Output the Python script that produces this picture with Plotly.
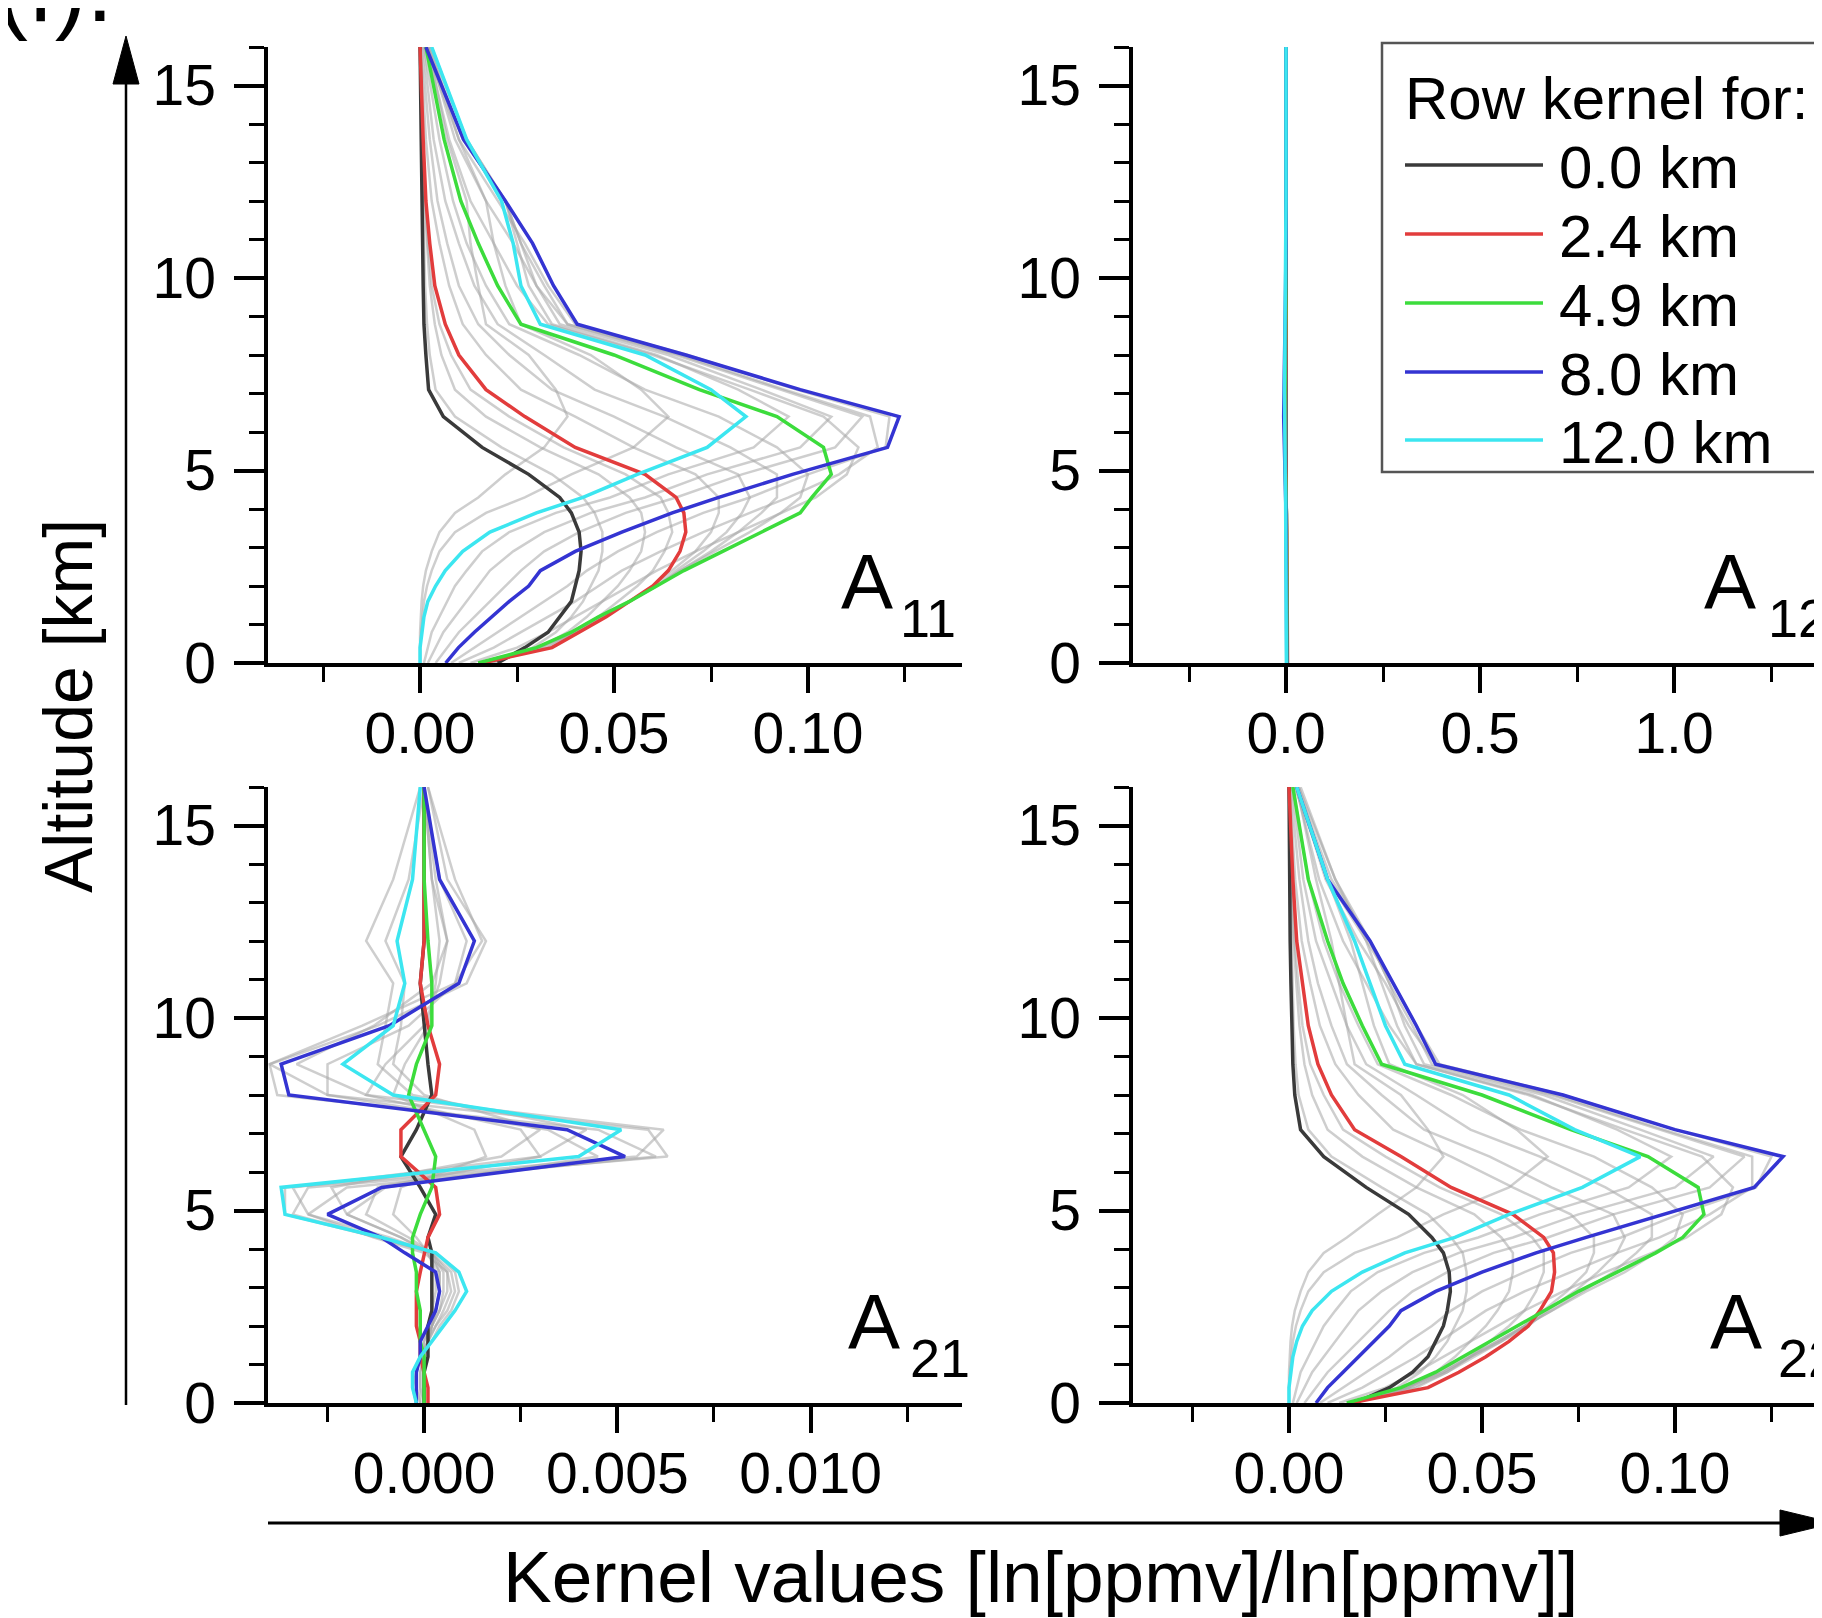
import plotly.graph_objects as go

W, H = 1822, 1618
OFF = 8  # page body margin, positions below are given in window pixels

# altitude grid of the kernel rows [km]
alt = [0.0, 0.4, 0.8, 1.2, 1.6, 2.0, 2.4, 2.9, 3.4, 3.9, 4.3, 4.9, 5.6, 6.4, 7.1, 8.0, 8.8, 9.8, 10.9, 12.0, 13.6, 16.0]

row_labels = ['0.0 km', '2.4 km', '4.9 km', '8.0 km', '12.0 km']
row_colors = ['#3a3a3a', '#e23c3c', '#3cdc3c', '#3434d2', '#3ce6f0']

# ---- A11 ----
a11_0p0 = [0.020, 0.027, 0.033, 0.036, 0.039, 0.040, 0.041, 0.0415, 0.041, 0.039, 0.036, 0.028, 0.016, 0.006, 0.0022, 0.0015, 0.001, 0.0008, 0.0006, 0.0005, 0.0003, 0.0]
a11_2p4 = [0.016, 0.034, 0.041, 0.048, 0.054, 0.060, 0.064, 0.067, 0.0685, 0.068, 0.066, 0.058, 0.040, 0.027, 0.017, 0.010, 0.0065, 0.0038, 0.0025, 0.0015, 0.0008, 0.0]
a11_4p9 = [0.015, 0.030, 0.039, 0.046, 0.054, 0.061, 0.068, 0.078, 0.088, 0.098, 0.101, 0.106, 0.104, 0.092, 0.072, 0.050, 0.026, 0.020, 0.015, 0.0105, 0.0062, 0.0015]
a11_8p0 = [0.0066, 0.0099, 0.014, 0.0185, 0.023, 0.028, 0.031, 0.040, 0.052, 0.065, 0.077, 0.096, 0.1205, 0.1235, 0.098, 0.0685, 0.0405, 0.0344, 0.029, 0.022, 0.0112, 0.0015]
a11_12p0 = [0.0, 0.0, 0.0005, 0.001, 0.002, 0.004, 0.0065, 0.011, 0.018, 0.030, 0.042, 0.056, 0.074, 0.084, 0.075, 0.058, 0.031, 0.026, 0.024, 0.021, 0.012, 0.003]
a11_grey = [
    [0.019, 0.029, 0.035, 0.039, 0.042, 0.044, 0.046, 0.047, 0.047, 0.045, 0.042, 0.034, 0.021, 0.009, 0.004, 0.0025, 0.0018, 0.0013, 0.001, 0.0008, 0.0004, 0.0],
    [0.018, 0.031, 0.038, 0.043, 0.047, 0.051, 0.054, 0.057, 0.058, 0.057, 0.054, 0.046, 0.031, 0.017, 0.009, 0.0055, 0.0038, 0.0025, 0.0018, 0.0012, 0.0006, 0.0],
    [0.017, 0.033, 0.040, 0.046, 0.051, 0.056, 0.060, 0.063, 0.065, 0.064, 0.062, 0.053, 0.037, 0.023, 0.013, 0.008, 0.005, 0.003, 0.002, 0.0013, 0.0007, 0.0],
    [0.016, 0.032, 0.040, 0.047, 0.054, 0.060, 0.065, 0.071, 0.075, 0.077, 0.077, 0.071, 0.055, 0.040, 0.026, 0.017, 0.011, 0.0075, 0.005, 0.003, 0.0015, 0.0002],
    [0.016, 0.031, 0.040, 0.047, 0.054, 0.061, 0.066, 0.073, 0.079, 0.083, 0.085, 0.082, 0.066, 0.050, 0.034, 0.023, 0.015, 0.010, 0.007, 0.0045, 0.0025, 0.0004],
    [0.015, 0.030, 0.040, 0.047, 0.054, 0.061, 0.067, 0.075, 0.082, 0.088, 0.092, 0.092, 0.080, 0.063, 0.045, 0.032, 0.020, 0.014, 0.010, 0.0065, 0.0035, 0.0008],
    [0.015, 0.030, 0.039, 0.046, 0.054, 0.061, 0.067, 0.076, 0.085, 0.093, 0.098, 0.100, 0.092, 0.077, 0.058, 0.041, 0.023, 0.017, 0.012, 0.0085, 0.005, 0.001],
    [0.013, 0.025, 0.033, 0.040, 0.047, 0.054, 0.061, 0.071, 0.082, 0.093, 0.102, 0.110, 0.113, 0.104, 0.085, 0.060, 0.033, 0.025, 0.019, 0.013, 0.0075, 0.0018],
    [0.010, 0.019, 0.026, 0.033, 0.040, 0.046, 0.052, 0.062, 0.073, 0.085, 0.095, 0.108, 0.118, 0.116, 0.094, 0.067, 0.038, 0.030, 0.024, 0.017, 0.009, 0.002],
    [0.008, 0.014, 0.020, 0.026, 0.032, 0.038, 0.043, 0.051, 0.061, 0.073, 0.085, 0.100, 0.120, 0.121, 0.097, 0.069, 0.040, 0.033, 0.027, 0.020, 0.010, 0.0015],
    [0.004, 0.007, 0.010, 0.014, 0.018, 0.022, 0.026, 0.032, 0.041, 0.053, 0.066, 0.083, 0.107, 0.114, 0.093, 0.066, 0.038, 0.032, 0.026, 0.022, 0.011, 0.002],
    [0.002, 0.004, 0.006, 0.009, 0.012, 0.015, 0.018, 0.024, 0.032, 0.044, 0.058, 0.074, 0.098, 0.106, 0.088, 0.064, 0.036, 0.030, 0.026, 0.022, 0.012, 0.0025],
    [0.001, 0.002, 0.003, 0.005, 0.007, 0.009, 0.012, 0.016, 0.023, 0.035, 0.049, 0.064, 0.086, 0.095, 0.082, 0.061, 0.034, 0.028, 0.025, 0.022, 0.012, 0.003],
    [0.0, 0.0, 0.0003, 0.0006, 0.001, 0.0018, 0.003, 0.005, 0.009, 0.017, 0.027, 0.039, 0.055, 0.064, 0.057, 0.044, 0.026, 0.022, 0.019, 0.017, 0.010, 0.0025],
    [0.0, 0.0, 0.0, 0.0002, 0.0004, 0.0008, 0.0015, 0.003, 0.005, 0.009, 0.015, 0.022, 0.032, 0.038, 0.035, 0.028, 0.017, 0.015, 0.013, 0.012, 0.007, 0.002],
]

# ---- A12 ----
a12_0p0 = [0.003, 0.003, 0.003, 0.002, 0.002, 0.002, 0.002, 0.001, 0.001, 0.001, 0.0, 0.0, -0.001, -0.001, 0.0, 0.0, 0.0, 0.0, 0.0, 0.0, 0.0, 0.0]
a12_2p4 = [0.004, 0.004, 0.004, 0.003, 0.003, 0.003, 0.003, 0.002, 0.002, 0.001, 0.0, -0.001, -0.002, -0.002, -0.001, 0.0, 0.0, 0.0, 0.0, 0.0, 0.0, 0.0]
a12_4p9 = [0.003, 0.003, 0.003, 0.003, 0.002, 0.002, 0.002, 0.002, 0.001, 0.001, 0.0, -0.002, -0.003, -0.003, -0.002, -0.001, 0.0, 0.0, 0.0, 0.0, 0.0, 0.0]
a12_8p0 = [0.002, 0.002, 0.002, 0.002, 0.002, 0.001, 0.001, 0.001, 0.0, 0.0, -0.001, -0.003, -0.005, -0.006, -0.005, -0.003, -0.002, -0.001, 0.0, 0.0, 0.0, 0.0]
a12_12p0 = [0.001, 0.001, 0.001, 0.001, 0.001, 0.001, 0.001, 0.0, 0.0, 0.0, -0.001, -0.002, -0.003, -0.004, -0.004, -0.003, -0.002, -0.001, -0.001, 0.0, 0.0, 0.0]

# ---- A21 ----
a21_0p0 = [0.0, 0.0, 0.0, 0.0001, 0.0001, 0.0001, 0.0002, 0.0002, 0.0002, 0.0002, 0.0001, 0.0003, -0.0001, -0.0006, -0.0002, 0.0002, 0.0001, 0.0, -0.0001, 0.0, 0.0, 0.0]
a21_2p4 = [0.0001, 0.0001, 0.0, -0.0001, -0.0001, -0.0002, -0.0002, -0.0002, -0.0001, 0.0, 0.0001, 0.0004, 0.0003, -0.0006, -0.0006, 0.0003, 0.0004, 0.0001, -0.0001, 0.0, 0.0, 0.0]
a21_4p9 = [0.0, 0.0, 0.0, 0.0, -0.0001, -0.0001, -0.0001, -0.0002, -0.0002, -0.0003, -0.0003, -0.0001, 0.0002, 0.0003, 0.0, -0.0004, -0.0002, 0.0002, 0.0002, 0.0001, 0.0, 0.0]
a21_8p0 = [-0.0002, -0.0002, -0.0002, -0.0001, -0.0001, 0.0001, 0.0003, 0.0004, 0.0003, -0.0005, -0.0011, -0.0025, -0.0011, 0.0052, 0.0037, -0.0035, -0.0037, -0.0009, 0.0009, 0.0013, 0.0004, 0.0]
a21_12p0 = [-0.0002, -0.0003, -0.0003, -0.0001, 0.0002, 0.0005, 0.0008, 0.0011, 0.0009, 0.0003, -0.0011, -0.0036, -0.0037, 0.0040, 0.0051, -0.0008, -0.0021, -0.0008, -0.0005, -0.0007, -0.0003, -0.0001]
a21_grey = [
    [0.0, 0.0, 0.0, 0.0, 0.0, 0.0001, 0.0002, 0.0003, 0.0003, 0.0001, -0.0002, -0.0008, -0.0006, 0.0016, 0.0013, -0.0008, -0.0005, 0.0001, 0.0003, 0.0004, 0.0002, 0.0],
    [0.0, 0.0, 0.0, 0.0, 0.0001, 0.0002, 0.0003, 0.0004, 0.0004, 0.0002, -0.0004, -0.0015, -0.0012, 0.0030, 0.0025, -0.0015, -0.0010, 0.0, 0.0004, 0.0006, 0.0003, 0.0],
    [-0.0001, -0.0001, -0.0001, 0.0, 0.0001, 0.0002, 0.0004, 0.0005, 0.0005, 0.0002, -0.0006, -0.0020, -0.0010, 0.0045, 0.0032, -0.0025, -0.0025, -0.0004, 0.0008, 0.0011, 0.0004, 0.0],
    [-0.0002, -0.0002, -0.0002, -0.0001, 0.0, 0.0002, 0.0004, 0.0006, 0.0006, 0.0, -0.0013, -0.0030, -0.0020, 0.0060, 0.0045, -0.0038, -0.0040, -0.0012, 0.0011, 0.0016, 0.0006, 0.0001],
    [-0.0002, -0.0003, -0.0002, -0.0001, 0.0001, 0.0003, 0.0006, 0.0008, 0.0007, 0.0002, -0.0012, -0.0034, -0.0030, 0.0063, 0.0058, -0.0025, -0.0040, -0.0016, 0.0008, 0.0015, 0.0008, 0.0001],
    [-0.0002, -0.0003, -0.0003, -0.0001, 0.0002, 0.0004, 0.0007, 0.0009, 0.0008, 0.0003, -0.0012, -0.0036, -0.0036, 0.0055, 0.0062, -0.0015, -0.0033, -0.0013, 0.0002, 0.0006, 0.0002, 0.0],
    [-0.0001, -0.0002, -0.0002, -0.0001, 0.0001, 0.0003, 0.0005, 0.0007, 0.0006, 0.0002, -0.0009, -0.0030, -0.0034, 0.0030, 0.0042, -0.0003, -0.0012, -0.0010, -0.0008, -0.0015, -0.0008, -0.0001],
    [0.0, -0.0001, -0.0001, 0.0, 0.0001, 0.0002, 0.0003, 0.0004, 0.0004, 0.0001, -0.0006, -0.0020, -0.0024, 0.0020, 0.0030, 0.0, -0.0008, -0.0006, -0.0005, -0.0010, -0.0004, 0.0],
]

# ---- A22 ----
a22_0p0 = [0.017, 0.026, 0.032, 0.036, 0.038, 0.040, 0.041, 0.0418, 0.0415, 0.040, 0.037, 0.031, 0.020, 0.009, 0.003, 0.0015, 0.001, 0.0007, 0.0005, 0.0003, 0.0002, 0.0]
a22_2p4 = [0.016, 0.036, 0.044, 0.051, 0.057, 0.062, 0.065, 0.068, 0.0688, 0.0685, 0.066, 0.058, 0.042, 0.029, 0.017, 0.011, 0.0075, 0.005, 0.0035, 0.002, 0.001, 0.0]
a22_4p9 = [0.015, 0.029, 0.038, 0.045, 0.052, 0.059, 0.066, 0.075, 0.085, 0.095, 0.102, 0.1075, 0.106, 0.093, 0.073, 0.050, 0.024, 0.019, 0.014, 0.010, 0.005, 0.001]
a22_8p0 = [0.007, 0.010, 0.014, 0.018, 0.022, 0.026, 0.029, 0.038, 0.050, 0.064, 0.077, 0.097, 0.1205, 0.128, 0.100, 0.071, 0.038, 0.033, 0.027, 0.021, 0.010, 0.002]
a22_12p0 = [0.0, 0.0, 0.0005, 0.001, 0.002, 0.0035, 0.006, 0.011, 0.019, 0.030, 0.043, 0.057, 0.076, 0.091, 0.074, 0.057, 0.030, 0.025, 0.021, 0.017, 0.010, 0.002]
a22_grey = [
    [0.017, 0.028, 0.034, 0.038, 0.041, 0.043, 0.045, 0.046, 0.046, 0.045, 0.042, 0.036, 0.024, 0.011, 0.005, 0.0025, 0.0017, 0.0012, 0.0009, 0.0007, 0.0004, 0.0],
    [0.017, 0.031, 0.038, 0.043, 0.047, 0.051, 0.054, 0.057, 0.058, 0.058, 0.055, 0.048, 0.033, 0.019, 0.010, 0.006, 0.004, 0.0027, 0.0019, 0.0012, 0.0006, 0.0],
    [0.016, 0.033, 0.041, 0.047, 0.052, 0.057, 0.061, 0.064, 0.066, 0.066, 0.063, 0.055, 0.039, 0.025, 0.014, 0.009, 0.0055, 0.0035, 0.0024, 0.0014, 0.0007, 0.0],
    [0.016, 0.032, 0.041, 0.048, 0.055, 0.061, 0.066, 0.072, 0.077, 0.079, 0.079, 0.073, 0.058, 0.042, 0.027, 0.018, 0.012, 0.008, 0.0055, 0.0033, 0.0016, 0.0002],
    [0.015, 0.031, 0.040, 0.047, 0.055, 0.062, 0.067, 0.074, 0.080, 0.085, 0.087, 0.084, 0.068, 0.052, 0.035, 0.024, 0.015, 0.011, 0.0075, 0.005, 0.0027, 0.0004],
    [0.015, 0.030, 0.040, 0.047, 0.054, 0.061, 0.068, 0.076, 0.084, 0.090, 0.094, 0.094, 0.082, 0.065, 0.047, 0.033, 0.020, 0.015, 0.011, 0.007, 0.0037, 0.0008],
    [0.015, 0.030, 0.039, 0.046, 0.054, 0.061, 0.068, 0.077, 0.087, 0.095, 0.100, 0.102, 0.094, 0.079, 0.060, 0.042, 0.023, 0.018, 0.013, 0.009, 0.005, 0.001],
    [0.013, 0.025, 0.033, 0.040, 0.047, 0.054, 0.061, 0.071, 0.082, 0.094, 0.103, 0.112, 0.115, 0.107, 0.087, 0.062, 0.033, 0.026, 0.020, 0.014, 0.0078, 0.0018],
    [0.010, 0.019, 0.026, 0.033, 0.039, 0.045, 0.051, 0.061, 0.073, 0.085, 0.096, 0.109, 0.120, 0.120, 0.097, 0.069, 0.038, 0.031, 0.025, 0.018, 0.0095, 0.002],
    [0.008, 0.014, 0.020, 0.026, 0.031, 0.037, 0.042, 0.050, 0.061, 0.073, 0.086, 0.101, 0.121, 0.125, 0.100, 0.071, 0.039, 0.033, 0.027, 0.020, 0.010, 0.0015],
    [0.004, 0.007, 0.010, 0.014, 0.018, 0.022, 0.026, 0.032, 0.041, 0.053, 0.067, 0.084, 0.109, 0.118, 0.096, 0.068, 0.037, 0.032, 0.026, 0.021, 0.011, 0.002],
    [0.002, 0.004, 0.006, 0.009, 0.012, 0.015, 0.018, 0.024, 0.032, 0.044, 0.058, 0.075, 0.100, 0.110, 0.091, 0.066, 0.035, 0.030, 0.026, 0.021, 0.012, 0.0025],
    [0.001, 0.002, 0.003, 0.005, 0.007, 0.009, 0.012, 0.016, 0.023, 0.035, 0.049, 0.065, 0.088, 0.099, 0.085, 0.063, 0.033, 0.028, 0.024, 0.020, 0.012, 0.003],
    [0.0, 0.0, 0.0003, 0.0006, 0.001, 0.0018, 0.003, 0.005, 0.009, 0.017, 0.028, 0.040, 0.057, 0.067, 0.059, 0.045, 0.026, 0.022, 0.019, 0.016, 0.010, 0.0025],
    [0.0, 0.0, 0.0, 0.0002, 0.0004, 0.0008, 0.0015, 0.003, 0.005, 0.009, 0.015, 0.023, 0.033, 0.040, 0.036, 0.029, 0.017, 0.015, 0.013, 0.011, 0.007, 0.002],
]


def px(p):
    return (p - OFF) / W


def py(p):
    return 1 - (p - OFF) / H


FONT = 'Liberation Sans, Arial, sans-serif'
GREY = 'rgba(165,165,165,0.55)'

fig = go.Figure()


def add_panel(xa, ya, grey, rows):
    for g in grey:
        fig.add_trace(go.Scatter(x=g, y=alt, mode='lines', line=dict(color=GREY, width=2.5),
                                 xaxis=xa, yaxis=ya, showlegend=False, hoverinfo='skip'))
    for vals, c in zip(rows, row_colors):
        fig.add_trace(go.Scatter(x=vals, y=alt, mode='lines', line=dict(color=c, width=3.5),
                                 xaxis=xa, yaxis=ya, showlegend=False, hoverinfo='skip'))


add_panel('x', 'y', a11_grey, [a11_0p0, a11_2p4, a11_4p9, a11_8p0, a11_12p0])
add_panel('x2', 'y2', [], [a12_0p0, a12_2p4, a12_4p9, a12_8p0, a12_12p0])
add_panel('x3', 'y3', a21_grey, [a21_0p0, a21_2p4, a21_4p9, a21_8p0, a21_12p0])
add_panel('x4', 'y4', a22_grey, [a22_0p0, a22_2p4, a22_4p9, a22_8p0, a22_12p0])

tickfont = dict(family=FONT, size=57, color='black')


def xax(dom, anchor, rng, dt, fmt, mdt):
    return dict(domain=dom, anchor=anchor, range=rng, dtick=dt, tick0=0, tickformat=fmt,
                ticks='outside', ticklen=26, tickwidth=3.5, tickcolor='black',
                minor=dict(dtick=mdt, tick0=0, ticks='outside', ticklen=15, tickwidth=3, tickcolor='black'),
                showline=True, linewidth=3.5, linecolor='black', showgrid=False, zeroline=False,
                tickfont=tickfont, ticklabelstandoff=-8, automargin=False)


def yax(dom, anchor):
    return dict(domain=dom, anchor=anchor, range=[0, 16], dtick=5, tick0=0,
                ticks='outside', ticklen=30, tickwidth=3.5, tickcolor='black',
                minor=dict(dtick=1, tick0=0, ticks='outside', ticklen=15, tickwidth=3, tickcolor='black'),
                showline=True, linewidth=3.5, linecolor='black', showgrid=False, zeroline=False,
                tickfont=tickfont, ticklabelstandoff=7, automargin=False)


# panel frames in window pixels
L0, L1 = 268, 962          # left column
R0, R1 = 1133, W + OFF     # right column, runs off the page edge
T0, T1 = 47, 663           # top row (alt 16 .. alt 0)
B0, B1 = 787, 1403         # bottom row

top_dom = [py(T1), py(T0)]
bot_dom = [py(B1), py(B0)]
left_dom = [px(L0), px(L1)]
right_dom = [px(R0), 1.0]

# x ranges from the pixel position of zero and pixels per unit
a12_zero, a12_scale = 1286, 388.0
a22_zero, a22_scale = 1289, 3860.0

fig.update_layout(
    template='none',
    width=W, height=H,
    margin=dict(l=0, r=0, t=0, b=0, pad=0),
    paper_bgcolor='white', plot_bgcolor='white',
    showlegend=False,
    xaxis=xax(left_dom, 'y', [-0.0392, 0.1397], 0.05, '.2f', 0.025),
    yaxis=yax(top_dom, 'x'),
    xaxis2=xax(right_dom, 'y2', [-(a12_zero - R0) / a12_scale, (R1 - a12_zero) / a12_scale], 0.5, '.1f', 0.25),
    yaxis2=yax(top_dom, 'x2'),
    xaxis3=xax(left_dom, 'y3', [-0.00404, 0.01392], 0.005, '.3f', 0.0025),
    yaxis3=yax(bot_dom, 'x3'),
    xaxis4=xax(right_dom, 'y4', [-(a22_zero - R0) / a22_scale, (R1 - a22_zero) / a22_scale], 0.05, '.2f', 0.025),
    yaxis4=yax(bot_dom, 'x4'),
)

annotations = []
shapes = []

# panel labels
panel_labels = [('11', 839, 898, 628, 650), ('12', 1702, 1766, 628, 650),
                ('21', 846, 908, 1368, 1390), ('22', 1708, 1776, 1368, 1390)]
for sub, xa_, xs_, ya_, ys_ in panel_labels:
    annotations.append(dict(text='A', x=px(xa_), y=py(ya_), xref='paper', yref='paper',
                            xanchor='left', yanchor='bottom', showarrow=False,
                            font=dict(family=FONT, size=78, color='black')))
    annotations.append(dict(text=sub, x=px(xs_), y=py(ys_), xref='paper', yref='paper',
                            xanchor='left', yanchor='bottom', showarrow=False,
                            font=dict(family=FONT, size=54, color='black')))

# axis titles
annotations.append(dict(text='Altitude [km]', x=px(68), y=py(706), xref='paper', yref='paper',
                        textangle=-90, showarrow=False, xanchor='center', yanchor='middle',
                        font=dict(family=FONT, size=68, color='black')))
annotations.append(dict(text='Kernel values [ln[ppmv]/ln[ppmv]]', x=px(1040), y=py(1576),
                        xref='paper', yref='paper', showarrow=False, xanchor='center', yanchor='middle',
                        font=dict(family=FONT, size=73, color='black')))
# figure tag, cut at top edge
annotations.append(dict(text='(f).', x=px(-6), y=py(43), xref='paper', yref='paper', showarrow=False,
                        xanchor='left', yanchor='bottom', font=dict(family=FONT, size=96, color='black')))

# legend box
shapes.append(dict(type='rect', xref='paper', yref='paper', x0=px(1382), x1=px(1819), y0=py(472), y1=py(43),
                   line=dict(color='#555555', width=2.5), fillcolor='white', layer='above'))
annotations.append(dict(text='Row kernel for:', x=px(1403), y=py(98), xref='paper', yref='paper',
                        showarrow=False, xanchor='left', yanchor='middle',
                        font=dict(family=FONT, size=60, color='black')))
leg_y = [167, 236, 305, 374, 442]
for lab, col, yy in zip(row_labels, row_colors, leg_y):
    shapes.append(dict(type='line', xref='paper', yref='paper', x0=px(1405), x1=px(1543),
                       y0=py(yy - 2), y1=py(yy - 2), line=dict(color=col, width=3.5), layer='above'))
    annotations.append(dict(text=lab, x=px(1557), y=py(yy), xref='paper', yref='paper',
                            showarrow=False, xanchor='left', yanchor='middle',
                            font=dict(family=FONT, size=60, color='black')))

# big axis arrows
shapes.append(dict(type='line', xref='paper', yref='paper', x0=px(126), x1=px(126), y0=py(1405), y1=py(75),
                   line=dict(color='black', width=2.5)))
shapes.append(dict(type='path', xref='paper', yref='paper',
                   path='M %f %f L %f %f L %f %f Z' % (px(126), py(36), px(113), py(84), px(139), py(84)),
                   fillcolor='black', line=dict(color='black', width=1)))
shapes.append(dict(type='line', xref='paper', yref='paper', x0=px(268), x1=px(1790), y0=py(1523), y1=py(1523),
                   line=dict(color='black', width=3)))
shapes.append(dict(type='path', xref='paper', yref='paper',
                   path='M %f %f L %f %f L %f %f Z' % (px(1780), py(1510), px(1834), py(1523), px(1780), py(1536)),
                   fillcolor='black', line=dict(color='black', width=1)))

fig.update_layout(annotations=annotations, shapes=shapes)

fig.write_html("out.html")
